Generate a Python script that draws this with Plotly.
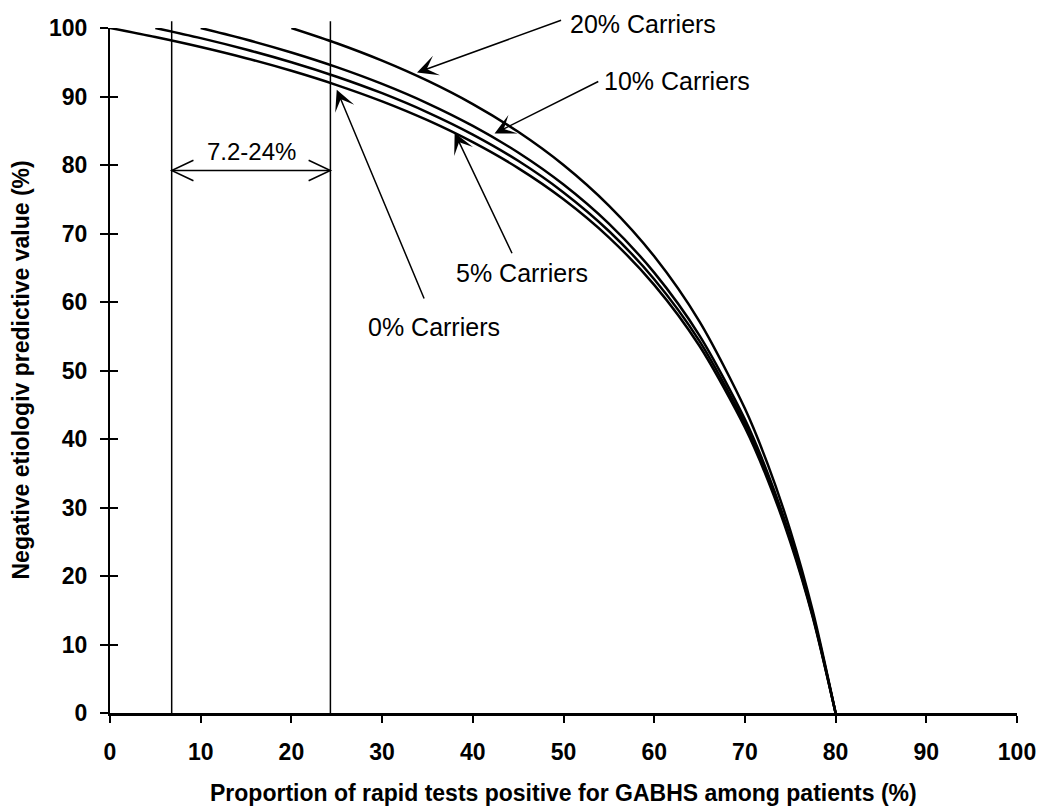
import plotly.graph_objects as go

# Proportion of rapid tests positive (%) and negative etiologic predictive value (%)
x_0pct = [0, 5, 10, 15, 20, 25, 30, 35, 40, 45, 50, 55, 60, 65, 70, 72.5, 75, 77.5, 80]
npv_0pct = [100, 98.68, 97.22, 95.59, 93.75, 91.67, 89.29, 86.54, 83.33, 79.55, 75.0, 69.44,
            62.5, 53.57, 41.67, 34.09, 25.0, 13.89, 0]

x_5pct = [5, 10, 15, 20, 25, 30, 35, 40, 45, 50, 55, 60, 65, 70, 72.5, 75, 77.5, 80]
npv_5pct = [100, 98.52, 96.86, 95.0, 92.89, 90.48, 87.69, 84.44, 80.61, 76.0, 70.37, 63.33,
            54.29, 42.22, 34.55, 25.33, 14.07, 0]

x_10pct = [10, 15, 20, 25, 30, 35, 40, 45, 50, 55, 60, 65, 70, 72.5, 75, 77.5, 80]
npv_10pct = [100, 98.32, 96.43, 94.29, 91.84, 89.01, 85.71, 81.82, 77.14, 71.43, 64.29,
             55.10, 42.86, 35.06, 25.71, 14.29, 0]

x_20pct = [20, 25, 30, 35, 40, 45, 50, 55, 60, 65, 70, 72.5, 75, 77.5, 80]
npv_20pct = [100, 97.78, 95.24, 92.31, 88.89, 84.85, 80.0, 74.07, 66.67, 57.14, 44.44,
             36.36, 26.67, 14.81, 0]

series_names = ["0% Carriers", "5% Carriers", "10% Carriers", "20% Carriers"]
range_bounds = [6.8, 24.3]
range_label = "7.2-24%"
x_ticks = list(range(0, 101, 10))
y_ticks = list(range(0, 101, 10))

FONT = "Arial, 'Liberation Sans', Helvetica, sans-serif"

fig = go.Figure()
for xs, ys, nm in zip([x_0pct, x_5pct, x_10pct, x_20pct],
                      [npv_0pct, npv_5pct, npv_10pct, npv_20pct], series_names):
    fig.add_trace(go.Scatter(x=xs, y=ys, mode="lines", name=nm,
                             line=dict(color="black", width=2.5, shape="spline", smoothing=0.8),
                             cliponaxis=False, hoverinfo="skip"))

# invisible trace for the inner-tick overlay axis
fig.add_trace(go.Scatter(x=[0], y=[0], yaxis="y2", mode="markers",
                         marker=dict(opacity=0), hoverinfo="skip", showlegend=False))

# vertical range lines
for b in range_bounds:
    fig.add_shape(type="line", xref="x", yref="paper", x0=b, x1=b, y0=0, y1=1.01,
                  line=dict(color="black", width=1.5))

# double arrow between the range lines (open V heads)
y_arr = 79.2
fig.add_shape(type="line", xref="x", yref="y", x0=range_bounds[0], x1=range_bounds[1],
              y0=y_arr, y1=y_arr, line=dict(color="black", width=1.5))
dx, dy = 2.4, 1.5
fig.add_shape(type="path", xref="x", yref="y",
              path=f"M {range_bounds[0]+dx},{y_arr+dy} L {range_bounds[0]},{y_arr} L {range_bounds[0]+dx},{y_arr-dy}",
              line=dict(color="black", width=1.5))
fig.add_shape(type="path", xref="x", yref="y",
              path=f"M {range_bounds[1]-dx},{y_arr+dy} L {range_bounds[1]},{y_arr} L {range_bounds[1]-dx},{y_arr-dy}",
              line=dict(color="black", width=1.5))
fig.add_annotation(x=sum(range_bounds) / 2, y=81.9, xref="x", yref="y", text=range_label,
                   showarrow=False, font=dict(family=FONT, size=24, color="black"))

# series label arrows: (tip x, tip y, tail x, tail y)
arrows = [(33.85, 93.5, 49.9, 101.2), (42.4, 84.6, 54.0, 92.3),
          (38.0, 84.7, 44.4, 66.9), (25.0, 91.0, 34.7, 60.3)]
for tx, ty, ax, ay in arrows:
    fig.add_annotation(x=tx, y=ty, ax=ax, ay=ay, xref="x", yref="y", axref="x", ayref="y",
                       text="", showarrow=True, arrowhead=3, arrowsize=2.3, arrowwidth=1.5,
                       arrowcolor="black", standoff=0, startstandoff=0)

# (text, x, y, extra pixel shift upward)
labels = [("20% Carriers", 50.5, 100.0, 4), ("10% Carriers", 54.2, 92.2, 0),
          ("5% Carriers", 37.9, 64.3, 0), ("0% Carriers", 28.2, 56.4, 0)]
for txt, lx, ly, ys in labels:
    fig.add_annotation(x=lx, y=ly, xref="x", yref="y", text=txt, showarrow=False,
                       xanchor="left", yanchor="middle", yshift=ys,
                       font=dict(family=FONT, size=25, color="black"))

# axis titles
fig.add_annotation(x=0.5, y=0, xref="paper", yref="paper", yshift=-80,
                   text="Proportion of rapid tests positive for GABHS among patients (%)",
                   showarrow=False, yanchor="middle",
                   font=dict(family=FONT, size=23, color="black", weight="bold"))
fig.add_annotation(x=0, y=0.5, xref="paper", yref="paper", xshift=-90,
                   text="Negative etiologiv predictive value (%)", textangle=-90,
                   showarrow=False, xanchor="center",
                   font=dict(family=FONT, size=23, color="black", weight="bold"))

fig.update_layout(
    width=1038, height=807,
    margin=dict(l=110, r=21, t=28, b=94, autoexpand=False),
    plot_bgcolor="white", paper_bgcolor="white", showlegend=False,
    xaxis=dict(range=[0, 100], tickvals=x_ticks, ticks="outside", ticklen=7, tickwidth=2,
               tickcolor="black", showline=True, linewidth=2.5, linecolor="black",
               showgrid=False, zeroline=False, ticklabelstandoff=10, automargin=False,
               tickfont=dict(family=FONT, size=23, color="black", weight="bold")),
    yaxis=dict(range=[0, 100], tickvals=y_ticks, ticks="outside", ticklen=8, tickwidth=2,
               tickcolor="black", showline=True, linewidth=2, linecolor="black",
               showgrid=False, zeroline=False, ticklabelstandoff=8, automargin=False,
               tickfont=dict(family=FONT, size=23, color="black", weight="bold")),
    yaxis2=dict(range=[0, 100], overlaying="y", side="left", tickvals=y_ticks,
                ticks="inside", ticklen=8, tickwidth=2, tickcolor="black", automargin=False,
                showticklabels=False, showline=False, showgrid=False, zeroline=False),
)

fig.write_html("out.html", config={"displayModeBar": False},
               post_script="document.body.style.margin='0';document.body.style.overflow='hidden';")
